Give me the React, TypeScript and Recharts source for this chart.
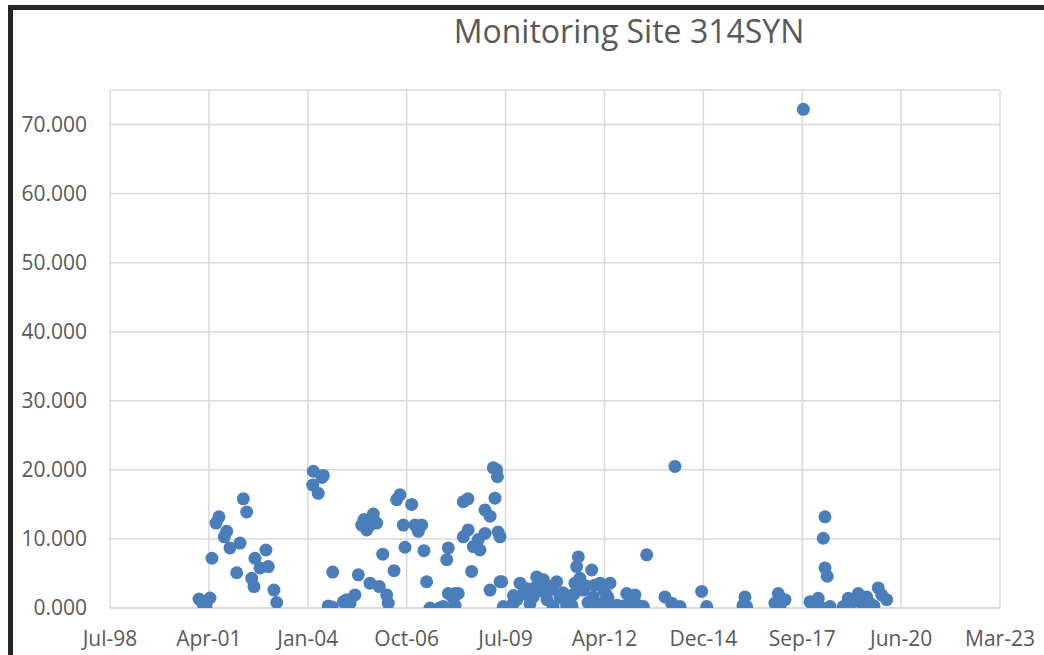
import React from "react";
import {
  ScatterChart,
  Scatter,
  XAxis,
  YAxis,
  CartesianGrid,
} from "recharts";

// sample dates as Excel day serials
const sampleDates = [
  36900, 36940, 36971, 37011, 36981, 37031, 37072, 37102, 37180, 37156,
  37213, 37315, 37281, 37348, 37382, 37466, 37577, 37517, 37601, 37433,
  37456, 37658, 37686,
  38056, 38157, 38050, 38106, 38144, 38207, 38245, 38252, 38359, 38427,
  38477, 38394, 38511, 38545, 38663, 38596, 38697, 38629, 38568, 38629,
  38723, 38758, 38798, 38814, 38872, 38899, 38932, 39051, 38966, 39084,
  39152, 39118, 38983, 39175, 39202, 39236, 39337, 39421, 39471, 39522,
  39405, 39421, 39489,
  39573, 39620, 39792, 39893, 39910, 39876, 39918, 39843, 39573, 39623,
  39724, 39674, 39741, 39792, 39944, 39924, 39657, 39489, 39843, 39944,
  39370, 39977, 40078,
  39961, 40045, 40146, 40179, 40113, 40315, 40382, 40280, 40517, 40449,
  40550, 40618, 40736, 40719, 40871, 40702, 40786, 40887, 40955, 41056,
  41005, 41090, 40217, 40247, 40348, 40419, 40480, 40581, 40651, 40672,
  40752, 40813, 40833, 40934, 40995, 41036, 41127, 41157,
  40080, 40200, 40300, 40400, 40470, 40600, 40690, 40760, 40900, 41020,
  41225, 41292, 41427, 41393, 41309, 41187, 41248, 41339, 41612, 41680,
  41764, 41713, 41983, 42034,
  42421, 42438, 42401, 42758, 42724, 42826, 42785, 42775,
  43011, 43078, 43162, 43180, 43230, 43213, 43230, 43253, 43281, 43119,
  43415, 43466, 43567, 43601, 43685, 43652, 43769, 43804, 43854, 43513,
  43725,
];

const sampleValues = [
  1.3, 0.6, 0.3, 1.45, 1.0, 7.2, 12.3, 13.2, 11.1, 10.3,
  8.7, 9.4, 5.1, 15.8, 13.9, 7.2, 8.4, 5.8, 6.0, 4.3,
  3.1, 2.6, 0.8,
  19.8, 19.2, 17.8, 16.6, 18.9, 0.3, 0.15, 5.2, 0.9, 0.7,
  1.9, 1.2, 4.8, 12.0, 13.6, 11.3, 12.3, 12.0, 12.8, 3.6,
  3.1, 7.8, 1.9, 0.7, 5.4, 15.7, 16.4, 15.0, 12.0, 12.0,
  12.0, 11.1, 8.8, 8.3, 3.8, 0.0, 0.05, 2.1, 1.4, 2.1,
  7.0, 8.7, 0.4,
  15.4, 15.8, 14.2, 15.9, 20.0, 20.3, 19.0, 13.3, 10.3, 11.3,
  9.9, 8.9, 8.4, 10.8, 10.3, 11.0, 5.3, 2.1, 2.6, 3.8,
  0.2, 0.2, 0.7,
  3.8, 0.1, 3.6, 2.1, 1.2, 4.5, 4.1, 1.6, 3.8, 3.1,
  1.6, 0.2, 7.4, 6.0, 5.5, 3.6, 2.6, 1.6, 3.6, 3.6,
  0.9, 0.05, 2.8, 0.6, 2.5, 1.2, 0.3, 2.2, 1.0, 0.3,
  4.3, 3.2, 0.8, 0.5, 2.5, 1.5, 0.4, 0.2,
  1.8, 2.0, 3.0, 2.4, 2.7, 1.1, 2.0, 2.9, 3.3, 1.9,
  2.1, 1.6, 7.7, 0.2, 1.9, 0.3, 0.6, 0.4, 1.6, 0.7,
  0.2, 20.5, 2.4, 0.2,
  1.6, 0.2, 0.4, 2.1, 0.7, 1.2, 1.4, 0.3,
  72.2, 0.9, 1.4, 0.2, 13.2, 10.1, 5.8, 4.6, 0.2, 0.6,
  0.2, 1.4, 2.1, 0.7, 0.7, 1.6, 2.9, 1.9, 1.2, 0.9,
  0.3,
];

const xTicks = [36000, 37000, 38000, 39000, 40000, 41000, 42000, 43000, 44000, 45000];
const yTicks = [0, 10, 20, 30, 40, 50, 60, 70];
const MONTHS = ["Jan", "Feb", "Mar", "Apr", "May", "Jun", "Jul", "Aug", "Sep", "Oct", "Nov", "Dec"];

const data = sampleDates.map((x, i) => ({ x, y: sampleValues[i] }));

const serialLabel = (serial: number) => {
  const d = new Date(Date.UTC(1899, 11, 30) + serial * 86400000);
  return `${MONTHS[d.getUTCMonth()]}-${String(d.getUTCFullYear() % 100).padStart(2, "0")}`;
};

const FONT = "'Open Sans', sans-serif";
const TEXT = "#595959";

const Dot = (props: any) => (
  <circle cx={props.cx} cy={props.cy} r={6.5} fill="#4a7ebb" />
);

export default function App() {
  return (
    <div style={{ position: "absolute", left: 0, top: 0, width: 1044, height: 655, background: "#fff", overflow: "hidden", fontFamily: FONT }}>
      <div style={{ position: "absolute", left: 8, top: 5, width: 1036, height: 5, background: "#262626" }} />
      <div style={{ position: "absolute", left: 8, top: 5, width: 5, height: 650, background: "#262626" }} />
      <div style={{ position: "absolute", left: 0, top: 9, width: 1258, textAlign: "center", fontSize: 32, lineHeight: "44px", color: TEXT }}>
        Monitoring Site 314SYN
      </div>
      <div style={{ position: "absolute", left: 0, top: 0 }}>
        <ScatterChart width={1044} height={655} margin={{ top: 90, right: 44, bottom: 17, left: 30 }}>
          <CartesianGrid stroke="#d9d9d9" strokeWidth={1.5} />
          <XAxis
            type="number"
            dataKey="x"
            domain={[36000, 45000]}
            ticks={xTicks}
            tickFormatter={serialLabel}
            height={30}
            stroke="#d9d9d9"
            strokeWidth={1.5}
            tickLine={false}
            tickSize={0}
            tickMargin={23}
            tick={{ fill: TEXT, fontSize: 21, fontFamily: FONT }}
            allowDataOverflow
          />
          <YAxis
            type="number"
            dataKey="y"
            domain={[0, 75]}
            ticks={yTicks}
            tickFormatter={(v: number) => v.toFixed(3)}
            width={80}
            axisLine={false}
            tickLine={false}
            tickSize={0}
            tickMargin={23}
            tick={{ fill: TEXT, fontSize: 21, fontFamily: FONT }}
            allowDataOverflow
          />
          <Scatter data={data} shape={Dot} isAnimationActive={false} />
        </ScatterChart>
      </div>
    </div>
  );
}
